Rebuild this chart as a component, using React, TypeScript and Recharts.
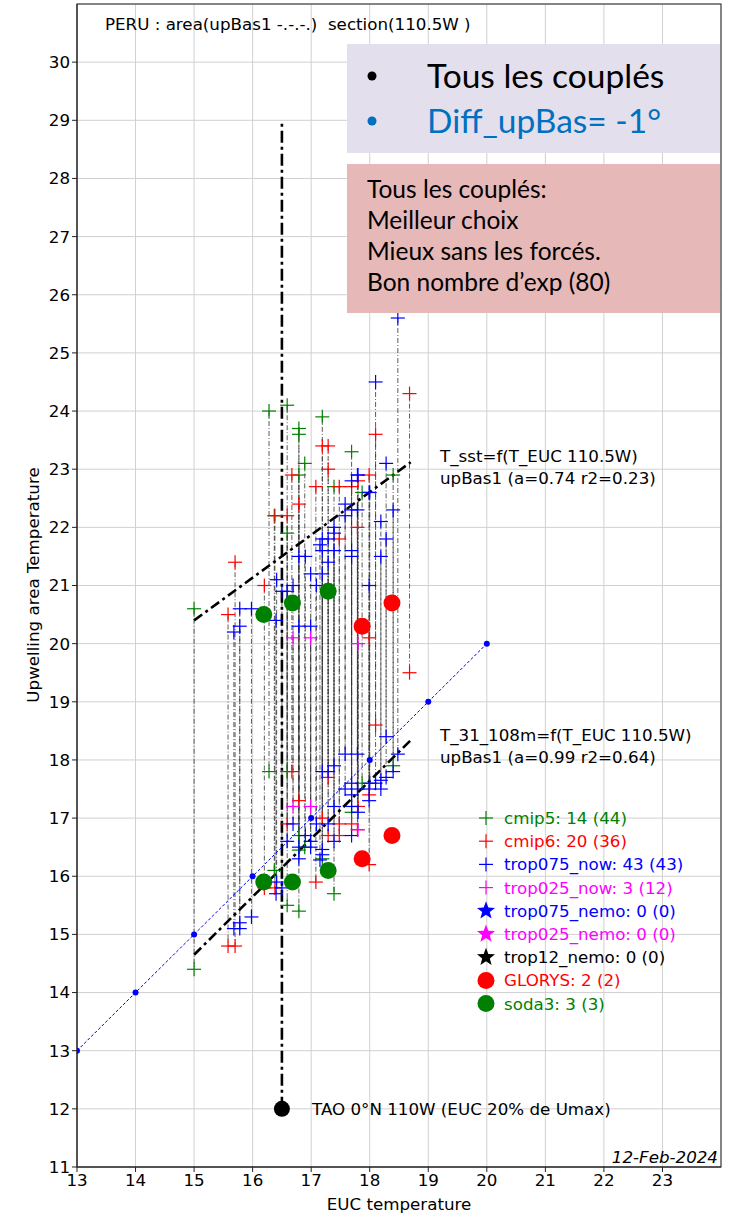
import React from 'react';
import { ScatterChart, Scatter, XAxis, YAxis, CartesianGrid, ReferenceLine } from 'recharts';

// values: EUC temperature, SST (upper cloud), T_31_108m (lower cloud)
const cmip5Euc = [15.0, 16.28, 16.59, 16.79, 16.79, 16.89, 16.59, 17.19, 17.39, 17.69, 17.87, 18.4, 16.37, 16.79];
const cmip5Sst = [20.6, 24.0, 24.1, 23.7, 23.6, 23.1, 21.9, 23.9, 22.7, 23.3, 22.6, 22.9, 22.2, 22.9];
const cmip5T31 = [14.4, 17.8, 17.8, 15.4, 16.7, 16.5, 15.5, 16.3, 15.7, 17.1, 17.6, 17.9, 16.1, 16.45];

const cmip6Euc = [18.1, 17.19, 17.29, 17.29, 16.67, 16.79, 17.08, 17.48, 17.69, 17.8, 17.99, 17.79, 16.38, 16.59, 17.48, 18.68, 15.7, 16.2, 15.58, 17.99];
const cmip6Sst = [23.6, 23.4, 23.4, 23.0, 22.9, 22.4, 22.7, 22.7, 22.7, 22.8, 22.9, 22.0, 22.2, 22.2, 21.8, 24.3, 21.4, 21.0, 20.5, 20.1];
const cmip6T31 = [18.6, 17.0, 17.7, 16.7, 17.8, 17.3, 15.9, 16.9, 16.9, 17.2, 17.4, 16.8, 15.8, 16.9, 16.7, 19.5, 14.8, 15.8, 14.8, 16.2];

const t075Euc = [15.68, 15.78, 15.78, 15.98, 16.4, 16.41, 16.5, 16.59, 16.69, 16.79, 16.79, 16.9, 16.99, 16.99, 17.09, 17.19, 17.19, 17.19, 17.15, 17.29, 17.29, 17.39, 17.39, 17.39, 17.58, 17.58, 17.69, 17.69, 17.69, 17.69, 17.79, 17.79, 17.8, 17.99, 17.99, 18.1, 18.19, 18.19, 18.28, 18.28, 18.4, 18.48, 18.0];
const t075Sst = [20.2, 20.6, 20.3, 20.6, 20.4, 21.1, 20.9, 20.9, 21.0, 21.5, 20.3, 21.5, 21.2, 20.3, 21.0, 21.8, 21.6, 21.2, 21.7, 21.8, 21.4, 22.0, 21.9, 21.6, 22.4, 22.2, 22.8, 22.3, 21.6, 21.5, 22.9, 22.3, 22.9, 22.6, 21.0, 24.5, 22.1, 21.5, 23.1, 21.8, 22.3, 25.6, 22.6];
const t075T31 = [15.1, 15.2, 15.1, 15.3, 15.7, 15.9, 15.8, 16.6, 16.9, 16.5, 16.3, 16.7, 16.5, 16.6, 16.9, 17.8, 16.46, 16.37, 16.28, 17.8, 16.9, 17.9, 17.2, 16.6, 18.1, 17.5, 17.6, 17.2, 16.7, 17.4, 18.1, 17.5, 17.1, 17.3, 17.5, 17.6, 17.65, 17.5, 18.4, 17.7, 17.8, 18.1, 17.6];

const t025Euc = [16.69, 16.99, 17.8];
const t025Sst = [20.1, 20.1, 20.0];
const t025T31 = [17.2, 17.2, 16.8];

const glorysEuc = [17.87, 18.38];
const glorysSst = [20.3, 20.7];
const glorysT31 = [16.3, 16.7];

const soda3Euc = [16.19, 16.68, 17.29];
const soda3Sst = [20.5, 20.7, 20.9];
const soda3T31 = [15.9, 15.9, 16.1];

const taoEuc = [16.5];
const taoT = [12];
const taoTop = 29;

const regX = [15.0, 18.7];
const regSst = [20.4, 23.12];
const regT31 = [14.65, 18.34];

const oneToOne = [13, 14, 15, 16, 17, 18, 19, 20];

const xTicks = [13, 14, 15, 16, 17, 18, 19, 20, 21, 22, 23];
const yTicks = [11, 12, 13, 14, 15, 16, 17, 18, 19, 20, 21, 22, 23, 24, 25, 26, 27, 28, 29, 30];

const legendLabels = ['cmip5: 14 (44)', 'cmip6: 20 (36)', 'trop075_now: 43 (43)', 'trop025_now: 3 (12)', 'trop075_nemo: 0 (0)', 'trop025_nemo: 0 (0)', 'trop12_nemo: 0 (0)', 'GLORYS: 2 (2)', 'soda3: 3 (3)'];
const legendColors = ['#008000', '#ff0000', '#0000ff', '#ff00ff', '#0000ff', '#ff00ff', '#000000', '#ff0000', '#008000'];
const legendMarks = ['plus', 'plus', 'plus', 'plus', 'star', 'star', 'star', 'circle', 'circle'];

const FONT = "'DejaVu Sans', Verdana, sans-serif";
const PPT = "Lato, 'Open Sans', sans-serif";

const pts = (xs: number[], ys: number[]) => xs.map((x, i) => ({ x, y: ys[i] }));

const plus = (color: string) => (p: any) => (
  <g>
    <line x1={p.cx - 7} x2={p.cx + 7} y1={p.cy} y2={p.cy} stroke={color} strokeWidth={1.2} />
    <line x1={p.cx} x2={p.cx} y1={p.cy - 7} y2={p.cy + 7} stroke={color} strokeWidth={1.2} />
  </g>
);
const dot = (color: string, r: number) => (p: any) => <circle cx={p.cx} cy={p.cy} r={r} fill={color} />;

const starPath = (cx: number, cy: number, R: number) => {
  const r = R * 0.42;
  let d = '';
  for (let k = 0; k < 10; k++) {
    const rad = k % 2 === 0 ? R : r;
    const a = -Math.PI / 2 + (k * Math.PI) / 5;
    d += (k === 0 ? 'M' : 'L') + (cx + rad * Math.cos(a)).toFixed(1) + ',' + (cy + rad * Math.sin(a)).toFixed(1);
  }
  return d + 'Z';
};

const plusGroups = [
  { name: 'cmip5', euc: cmip5Euc, sst: cmip5Sst, t31: cmip5T31, color: '#008000' },
  { name: 'cmip6', euc: cmip6Euc, sst: cmip6Sst, t31: cmip6T31, color: '#ff0000' },
  { name: 't075', euc: t075Euc, sst: t075Sst, t31: t075T31, color: '#0000ff' },
  { name: 't025', euc: t025Euc, sst: t025Sst, t31: t025T31, color: '#ff00ff' },
];

const App = () => (
  <div style={{ position: 'absolute', left: 0, top: 0, width: 735, height: 1217, background: '#fff' }}>
    <ScatterChart width={735} height={1217} margin={{ top: 4, right: 14, bottom: 0, left: 0 }}>
      <CartesianGrid stroke="#d0d0d0" strokeWidth={1} />
      <XAxis type="number" dataKey="x" domain={[13, 24]} ticks={xTicks} allowDataOverflow height={50}
        stroke="#222" tickSize={5} tick={{ fill: '#000', fontSize: 16.7, fontFamily: FONT }} />
      <YAxis type="number" dataKey="y" domain={[11, 31]} ticks={yTicks} allowDataOverflow width={77}
        stroke="#222" tickSize={5} tick={{ fill: '#000', fontSize: 16.7, fontFamily: FONT }} />

      {plusGroups.flatMap((g) =>
        g.euc.map((x, i) => (
          <ReferenceLine key={`${g.name}-${i}`} segment={[{ x, y: g.sst[i] }, { x, y: g.t31[i] }]}
            stroke="#333" strokeWidth={0.8} strokeDasharray="5 2 1 2" />
        ))
      )}
      <ReferenceLine segment={[{ x: taoEuc[0], y: taoT[0] }, { x: taoEuc[0], y: taoTop }]}
        stroke="#000" strokeWidth={2.6} strokeDasharray="12 4 3 4" />
      <ReferenceLine segment={[{ x: regX[0], y: regSst[0] }, { x: regX[1], y: regSst[1] }]}
        stroke="#000" strokeWidth={2.6} strokeDasharray="10 4 3 4" />
      <ReferenceLine segment={[{ x: regX[0], y: regT31[0] }, { x: regX[1], y: regT31[1] }]}
        stroke="#000" strokeWidth={2.6} strokeDasharray="10 4 3 4" />

      <Scatter data={pts(oneToOne, oneToOne)} line={{ stroke: '#0000ff', strokeWidth: 1, strokeDasharray: '3 2' }}
        shape={dot('#0000ff', 3)} isAnimationActive={false} />
      {plusGroups.map((g) => (
        <Scatter key={g.name} data={[...pts(g.euc, g.sst), ...pts(g.euc, g.t31)]} shape={plus(g.color)} isAnimationActive={false} />
      ))}
      <Scatter data={[...pts(glorysEuc, glorysSst), ...pts(glorysEuc, glorysT31)]} shape={dot('#ff0000', 8.5)} isAnimationActive={false} />
      <Scatter data={[...pts(soda3Euc, soda3Sst), ...pts(soda3Euc, soda3T31)]} shape={dot('#008000', 8.5)} isAnimationActive={false} />
      <Scatter data={pts(taoEuc, taoT)} shape={dot('#000', 8)} isAnimationActive={false} />
    </ScatterChart>

    <svg width={735} height={1217} style={{ position: 'absolute', left: 0, top: 0, pointerEvents: 'none' }}>
      <rect x={77} y={4} width={644} height={1163} fill="none" stroke="#222" strokeWidth={1} />
      <text x={105} y={30} fontFamily={FONT} fontSize={16.7} fill="#000" style={{ whiteSpace: 'pre' }}>
        {'PERU : area(upBas1 -.-.-.)\u00a0\u00a0section(110.5W )'}
      </text>

      <rect x={347} y={44} width={373} height={109} fill="#e4dfec" />
      <circle cx={372} cy={76} r={4.5} fill="#000" />
      <text x={427} y={88} fontFamily={PPT} fontSize={33.5} fill="#000">Tous les couplés</text>
      <circle cx={372} cy={121} r={4.5} fill="#0070c0" />
      <text x={427} y={133} fontFamily={PPT} fontSize={33.5} fill="#0070c0">Diff_upBas= -1°</text>

      <rect x={347} y={164} width={373} height={149} fill="#e6b8b7" />
      {['Tous les couplés:', 'Meilleur choix', 'Mieux sans les forcés.', 'Bon nombre d\u2019exp (80)'].map((t, i) => (
        <text key={t} x={367} y={198 + i * 31} fontFamily={PPT} fontSize={24.5} fill="#000">{t}</text>
      ))}

      <text x={440} y={462} fontFamily={FONT} fontSize={16.7} fill="#000">T_sst=f(T_EUC 110.5W)</text>
      <text x={440} y={484} fontFamily={FONT} fontSize={16.7} fill="#000">upBas1 (a=0.74 r2=0.23)</text>
      <text x={440} y={741} fontFamily={FONT} fontSize={16.7} fill="#000">T_31_108m=f(T_EUC 110.5W)</text>
      <text x={440} y={763} fontFamily={FONT} fontSize={16.7} fill="#000">upBas1 (a=0.99 r2=0.64)</text>

      {legendLabels.map((t, i) => {
        const cy = 818 + i * 23.2;
        const c = legendColors[i];
        const m = legendMarks[i];
        return (
          <g key={t}>
            {m === 'plus' && (
              <g>
                <line x1={479} x2={493} y1={cy} y2={cy} stroke={c} strokeWidth={1.2} />
                <line x1={486} x2={486} y1={cy - 7} y2={cy + 7} stroke={c} strokeWidth={1.2} />
              </g>
            )}
            {m === 'star' && <path d={starPath(486, cy, 9.5)} fill={c} />}
            {m === 'circle' && <circle cx={486} cy={cy} r={8.5} fill={c} />}
            <text x={504} y={cy + 6} fontFamily={FONT} fontSize={16.7} fill={c}>{t}</text>
          </g>
        );
      })}

      <text x={312} y={1115} fontFamily={FONT} fontSize={16.7} fill="#000">TAO 0°N 110W (EUC 20% de Umax)</text>
      <text x={718} y={1163} textAnchor="end" fontFamily={FONT} fontSize={16.7} fontStyle="italic" fill="#000">12-Feb-2024</text>
      <text x={399} y={1210} textAnchor="middle" fontFamily={FONT} fontSize={16.7} fill="#000">EUC temperature</text>
      <text transform="translate(39,585) rotate(-90)" textAnchor="middle" fontFamily={FONT} fontSize={16.7} fill="#000">Upwelling area Temperature</text>
    </svg>
  </div>
);

export default App;
